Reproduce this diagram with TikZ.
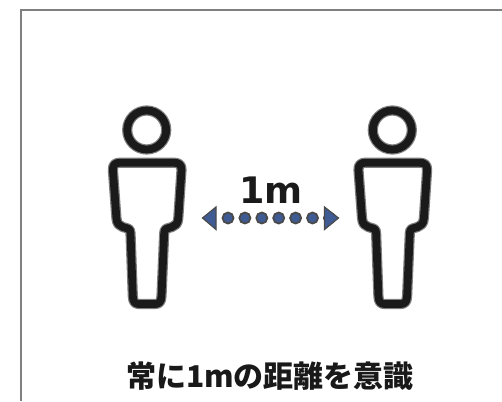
\documentclass[tikz,border=0pt]{standalone}
\usepackage{fontspec}
\setmainfont{Noto Sans CJK JP}
\setsansfont{DejaVu Sans}
\newfontfamily\jpfont{Noto Sans CJK JP}[BoldFont={* Black}]
\definecolor{halo}{HTML}{7F7F7F}
\definecolor{ink}{HTML}{1A1A1A}
\definecolor{dotblue}{HTML}{3F5B93}
\definecolor{dotedge}{HTML}{4A4A4A}
\tikzset{
  haloline/.style={draw=halo,line width=10.2pt,line join=round},
  inkline/.style={draw=ink,line width=7.8pt,line join=round},
  gap/.style={circle,fill=dotblue,draw=dotedge,line width=1.8pt,minimum size=11pt,inner sep=0pt},
  tip/.style={fill=dotblue,draw=dotedge,line width=1.2pt,line join=miter},
  frame/.style={draw=black!50,line width=1.4pt}
}
\newcommand{\personshape}[1]{%
  \begin{scope}[xshift=#1pt]
    \draw[haloline] (146.7,130) circle (19.5);
    \draw[inkline] (146.7,130) circle (19.5);
    \foreach \s in {haloline,inkline}{
      \draw[\s] (120,162.7) -- (174,162.7) .. controls (179,162.7) and (181.7,165) .. (181.5,170)
        -- (178.3,218) .. controls (178,224) and (175,226) .. (172,227) -- (167,228.5) .. controls (165,229) and (164.3,230) .. (164.2,233)
        -- (161.5,296) .. controls (161.3,302) and (159,304) .. (155,304) -- (139,304) .. controls (135,304) and (133,302) .. (132.8,296)
        -- (130.5,233) .. controls (130.4,230) and (129.7,229) .. (127.7,228.5) -- (122.7,227) .. controls (119.7,226) and (116.7,224) .. (116.4,218)
        -- (112.9,170) .. controls (112.7,165) and (115,162.7) .. (120,162.7) -- cycle;
    }
  \end{scope}}
\begin{document}
\begin{tikzpicture}[x=1pt,y=-1pt]
\useasboundingbox (0,0) rectangle (502,401);
\fill[white] (0,0) rectangle (502,401);
\draw[frame] (21,401) -- (21,10) -- (502,10);
\personshape{0}
\personshape{245.6}
\node[font=\sffamily\bfseries\fontsize{36.5}{36.5}\selectfont,text=ink,inner sep=0pt] (lbl) at (271,190.5) {1m};
\foreach \i in {0,...,6}{ \node[gap] (d\i) at (228+\i*16.9,218) {}; }
\draw[tip] (216,207) -- (202.5,218) -- (216,229.5) -- cycle;
\draw[tip] (324.5,207) -- (338.5,218) -- (324.5,229.5) -- cycle;
\node[font=\jpfont\bfseries\fontsize{30}{30}\selectfont,text=black!90,inner sep=0pt] (cap) at (270,376.5) {常に1mの距離を意識};
\end{tikzpicture}
\end{document}
